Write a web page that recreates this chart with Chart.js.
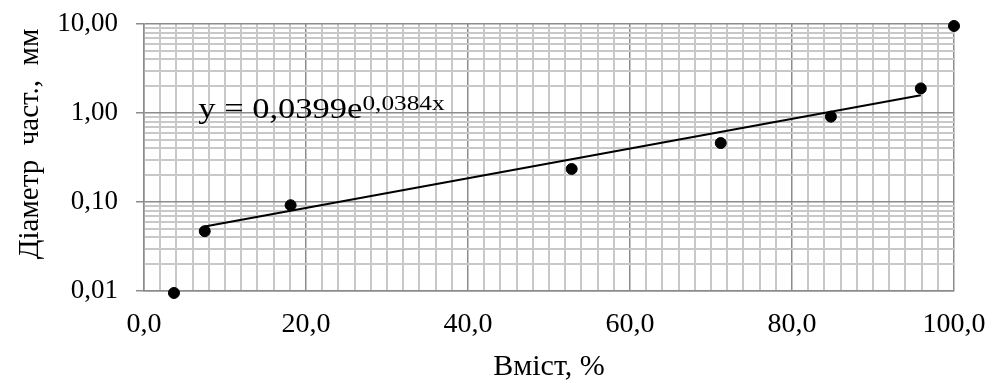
<!DOCTYPE html>
<html>
<head>
<meta charset="utf-8">
<script src="https://cdn.jsdelivr.net/npm/chart.js@4.4.1/dist/chart.umd.min.js"></script>
<style>
    html, body { margin: 0; padding: 0; background: #fff; }
    #wrap { width: 990px; height: 385px; }
</style>
</head>
<body>
<div id="wrap"><canvas id="sizeChart"></canvas></div>
<script>
// measured points: content (%) vs particle diameter (mm)
const contentPct = [3.7, 7.5, 18.1, 52.8, 71.2, 84.8, 95.9, 100];
const diameterMm = [0.0095, 0.047, 0.092, 0.235, 0.46, 0.91, 1.89, 9.5];

// exponential trendline ends
const trendX = [7.5, 95.9];
const trendY = [0.053, 1.58];

const xMajorTicks = [0, 20, 40, 60, 80, 100];
const yMajorTicks = [0.01, 0.1, 1, 10];

const trendText = 'y = 0,0399e';
const trendPower = '0,0384x';
const yTitle = 'Діаметр  част.,  мм';

const serif = '"Liberation Serif", "Times New Roman", serif';

function isMajor(list, v) {
    return list.some(m => Math.abs(m - v) <= Math.abs(m) * 1e-6 + 1e-9);
}

// 10 minor steps between x majors, 1..9 inside each y decade
function xTickValues() {
    const out = [];
    for (let i = 0; i < xMajorTicks.length - 1; i++) {
        const a = xMajorTicks[i], b = xMajorTicks[i + 1];
        for (let k = 0; k < 10; k++) out.push(a + (b - a) * k / 10);
    }
    out.push(xMajorTicks[xMajorTicks.length - 1]);
    return out;
}

function yTickValues() {
    const out = [];
    for (let i = 0; i < yMajorTicks.length - 1; i++) {
        for (let k = 1; k < 10; k++) out.push(yMajorTicks[i] * k);
    }
    out.push(yMajorTicks[yMajorTicks.length - 1]);
    return out;
}

// equation of the trendline + the vertical axis title
const textPlugin = {
    id: 'extraText',
    afterDatasetsDraw(chart) {
        const { ctx, scales: { x, y } } = chart;
        const px = x.getPixelForValue(6.7);
        const py = y.getPixelForValue(0.88);
        ctx.save();
        ctx.fillStyle = '#000';
        ctx.textBaseline = 'alphabetic';
        ctx.textAlign = 'left';
        ctx.translate(px, py);
        ctx.scale(1.15, 1);
        ctx.font = '30px ' + serif;
        ctx.fillText(trendText, 0, 0);
        const w = ctx.measureText(trendText).width;
        ctx.font = '22px ' + serif;
        ctx.fillText(trendPower, w, -8);
        ctx.restore();

        ctx.save();
        ctx.fillStyle = '#000';
        ctx.font = '29px ' + serif;
        ctx.textAlign = 'center';
        ctx.textBaseline = 'middle';
        ctx.translate(30, 144);
        ctx.rotate(-Math.PI / 2);
        ctx.fillText(yTitle, 0, 0);
        ctx.restore();
    }
};

function gridColor(list) {
    return c => isMajor(list, c.tick.value) ? '#8c8c8c' : '#c8c8c8';
}
function gridWidth(list) {
    return c => isMajor(list, c.tick.value) ? 1.5 : 2;
}

document.addEventListener('DOMContentLoaded', function () {
    const ctx = document.getElementById('sizeChart');

    new Chart(ctx, {
        type: 'scatter',
        data: {
            datasets: [
                {
                    label: 'Діаметр',
                    data: contentPct.map((v, i) => ({ x: v, y: diameterMm[i] })),
                    backgroundColor: '#000',
                    borderColor: '#000',
                    pointRadius: 5.5,
                    pointHoverRadius: 5.5,
                    clip: false,
                },
                {
                    label: 'Тренд',
                    type: 'line',
                    data: trendX.map((v, i) => ({ x: v, y: trendY[i] })),
                    borderColor: '#000',
                    borderWidth: 2,
                    pointRadius: 0,
                    fill: false,
                },
            ],
        },
        options: {
            responsive: true,
            maintainAspectRatio: false,
            animation: false,
            layout: { padding: { top: 24, right: 36, left: 0, bottom: 0 } },
            plugins: {
                legend: { display: false },
                tooltip: { enabled: false },
            },
            scales: {
                x: {
                    type: 'linear',
                    min: 0,
                    max: 100,
                    afterBuildTicks: s => { s.ticks = xTickValues().map(v => ({ value: v })); },
                    afterFit: s => {
                        s.height = 94;
                        s.paddingLeft = 0;
                        s.paddingRight = 0;
                    },
                    border: { color: '#8c8c8c', width: 1.5 },
                    grid: {
                        color: gridColor(xMajorTicks),
                        lineWidth: gridWidth(xMajorTicks),
                        drawTicks: false,
                    },
                    ticks: {
                        autoSkip: false,
                        maxRotation: 0,
                        padding: 17,
                        color: '#000',
                        font: { family: serif, size: 28 },
                        callback: v => isMajor(xMajorTicks, v) ? v.toFixed(1).replace('.', ',') : '',
                    },
                    title: {
                        display: true,
                        text: 'Вміст, %',
                        color: '#000',
                        font: { family: serif, size: 30 },
                        padding: { top: 0, bottom: 0 },
                    },
                },
                y: {
                    type: 'logarithmic',
                    min: 0.01,
                    max: 10,
                    afterBuildTicks: s => { s.ticks = yTickValues().map(v => ({ value: v })); },
                    afterFit: s => {
                        s.width = 144;
                        s.paddingTop = 0;
                        s.paddingBottom = 0;
                    },
                    border: { color: '#8c8c8c', width: 1.5 },
                    grid: {
                        color: gridColor(yMajorTicks),
                        lineWidth: gridWidth(yMajorTicks),
                        tickLength: 8,
                        tickColor: c => isMajor(yMajorTicks, c.tick.value) ? '#8c8c8c' : 'rgba(0,0,0,0)',
                    },
                    ticks: {
                        autoSkip: false,
                        padding: 18,
                        color: '#000',
                        font: { family: serif, size: 27 },
                        callback: v => isMajor(yMajorTicks, v) ? v.toFixed(2).replace('.', ',') : '',
                    },
                },
            },
        },
        plugins: [textPlugin],
    });
});
</script>
</body>
</html>
